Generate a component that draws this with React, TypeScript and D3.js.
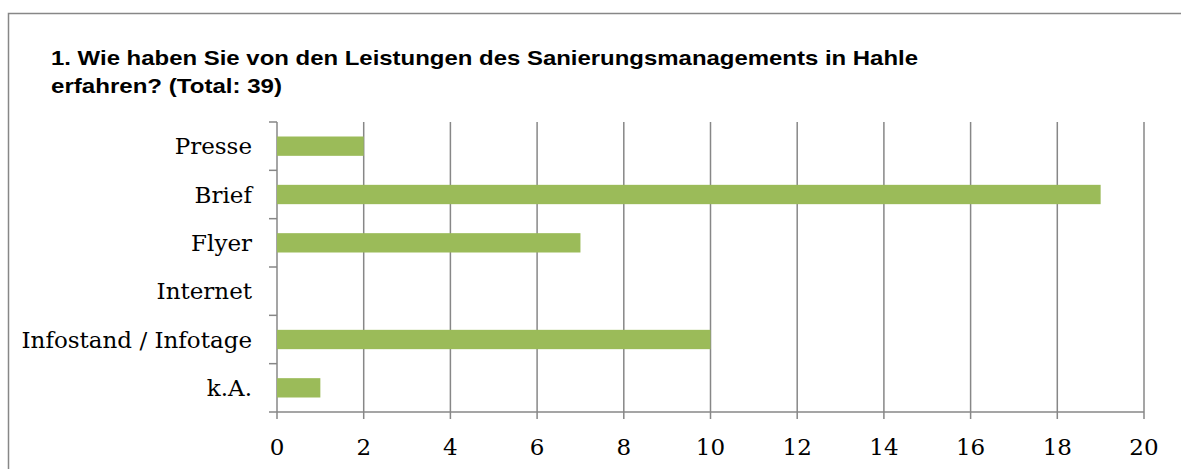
import React, { useEffect, useRef } from 'react';
import * as d3 from 'd3';

const categories = ['Presse', 'Brief', 'Flyer', 'Internet', 'Infostand / Infotage', 'k.A.'];
const counts = [2, 19, 7, 0, 10, 1];
const xTicks = [0, 2, 4, 6, 8, 10, 12, 14, 16, 18, 20];
const titleLines = [
  '1. Wie haben Sie von den Leistungen des Sanierungsmanagements in Hahle',
  'erfahren? (Total: 39)',
];
const titleWidths = [867, 231];

const W = 1181;
const H = 469;

const App: React.FC = () => {
  const svgRef = useRef<SVGSVGElement | null>(null);

  useEffect(() => {
    const svgEl = svgRef.current;
    if (!svgEl) return;
    const svg = d3.select(svgEl);
    svg.selectAll('*').remove();

    const grey = '#878787';
    const left = 277;
    const right = 1144;
    const top = 122;
    const bottom = 412;

    // outer frame (runs past the picture on right / bottom)
    svg.append('rect')
      .attr('x', 8.5).attr('y', 13.5)
      .attr('width', W + 20).attr('height', H + 20)
      .attr('fill', 'none').attr('stroke', grey).attr('stroke-width', 1.5);

    svg.append('g').selectAll('text').data(titleLines).enter().append('text')
      .attr('x', 51)
      .attr('y', (_d, i) => 64.5 + i * 28)
      .attr('font-family', '"Liberation Sans", Arial, sans-serif')
      .attr('font-weight', 'bold')
      .attr('font-size', 21)
      .attr('textLength', (_d, i) => titleWidths[i])
      .attr('lengthAdjust', 'spacingAndGlyphs')
      .attr('fill', '#000')
      .text((d) => d);

    const x = d3.scaleLinear().domain([0, 20]).range([left, right]);
    const y = d3.scaleBand<string>().domain(categories).range([top, bottom]).paddingInner(0.6).paddingOuter(0.3);
    const step = (bottom - top) / categories.length;

    // vertical gridlines + tick marks below the axis
    svg.append('g').selectAll('line').data(xTicks).enter().append('line')
      .attr('x1', (d) => x(d)).attr('x2', (d) => x(d))
      .attr('y1', top).attr('y2', bottom + 7)
      .attr('stroke', grey).attr('stroke-width', 1.5);

    // bottom axis line
    svg.append('line')
      .attr('x1', left - 8).attr('x2', right)
      .attr('y1', bottom).attr('y2', bottom)
      .attr('stroke', grey).attr('stroke-width', 1.5);

    // category ticks at band edges
    svg.append('g').selectAll('line').data(d3.range(categories.length)).enter().append('line')
      .attr('x1', left - 8).attr('x2', left)
      .attr('y1', (i) => top + i * step).attr('y2', (i) => top + i * step)
      .attr('stroke', grey).attr('stroke-width', 1.5);

    svg.append('g').selectAll('rect').data(categories).enter().append('rect')
      .attr('x', x(0))
      .attr('y', (d) => y(d) as number)
      .attr('width', (_d, i) => x(counts[i]) - x(0))
      .attr('height', y.bandwidth())
      .attr('fill', '#9BBB59');

    const serif = '"DejaVu Serif", Cambria, serif';

    svg.append('g').selectAll('text').data(categories).enter().append('text')
      .attr('x', 252)
      .attr('y', (d) => (y(d) as number) + y.bandwidth() / 2 + 8)
      .attr('text-anchor', 'end')
      .attr('font-family', serif)
      .attr('font-size', 23)
      .attr('fill', '#000')
      .text((d) => d);

    svg.append('g').selectAll('text').data(xTicks).enter().append('text')
      .attr('x', (d) => x(d))
      .attr('y', 455)
      .attr('text-anchor', 'middle')
      .attr('font-family', serif)
      .attr('font-size', 23)
      .attr('fill', '#000')
      .text((d) => String(d));
  }, []);

  return (
    <svg
      ref={svgRef}
      width={W}
      height={H}
      style={{ position: 'absolute', left: 0, top: 0, background: '#fff' }}
    ></svg>
  );
};

export default App;
